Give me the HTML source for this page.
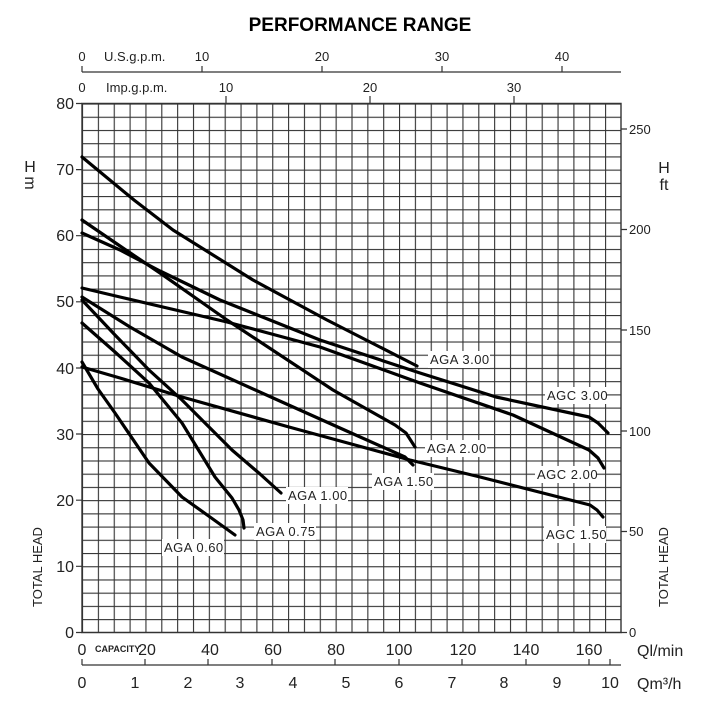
<!DOCTYPE html>
<html><head><meta charset="utf-8"><style>
html,body{margin:0;padding:0;background:#fff}
svg{display:block}
text{font-family:"Liberation Sans",sans-serif;fill:#222}
.t{font-size:16px}
.s{font-size:12px}
.l{font-size:13px;letter-spacing:0.5px}
</style></head><body>
<svg width="720" height="720" viewBox="0 0 720 720" xmlns="http://www.w3.org/2000/svg">
<defs>
<pattern id="g" x="82" y="103.5" width="15.85" height="13.22" patternUnits="userSpaceOnUse">
<path d="M0.5 0V13.22M0 0.5H15.85" stroke="#333" stroke-width="1.2" fill="none"/>
</pattern>
</defs>
<text x="360" y="31" text-anchor="middle" style="font-size:19px;font-weight:bold;fill:#000">PERFORMANCE RANGE</text>
<rect x="82" y="103.5" width="539" height="529" fill="url(#g)"/>
<path d="M82 103.5V632.5H621V103.5Z" fill="none" stroke="#333" stroke-width="1.4"/>
<g stroke="#333" stroke-width="1.2" fill="none">
<path d="M82 72H621M82 72V66M202 72V66M322 72V66M442 72V66M562 72V66"/>
<path d="M226 103V96M370 103V96M514 103V96"/>
<path d="M82 665H621M82 665V659M145 665V659M208 665V659M272 665V659M335 665V659M399 665V659M462 665V659M526 665V659M589 665V659M610 665V659"/>
<path d="M76 103.5H82M76 169.6H82M76 235.7H82M76 301.8H82M76 368H82M76 434H82M76 500.2H82M76 566.3H82M76 632.5H82"/>
<path d="M621 129H627M621 229.5H627M621 330H627M621 431H627M621 531.5H627M621 632.5H627"/>
</g>
<g class="s" style="font-size:13px">
<text x="82" y="61" text-anchor="middle">0</text><text x="104" y="61">U.S.g.p.m.</text>
<text x="202" y="61" text-anchor="middle">10</text><text x="322" y="61" text-anchor="middle">20</text><text x="442" y="61" text-anchor="middle">30</text><text x="562" y="61" text-anchor="middle">40</text>
<text x="82" y="92" text-anchor="middle">0</text><text x="106" y="92">Imp.g.p.m.</text>
<text x="226" y="92" text-anchor="middle">10</text><text x="370" y="92" text-anchor="middle">20</text><text x="514" y="92" text-anchor="middle">30</text>
</g>
<g class="t" text-anchor="end">
<text x="74" y="109">80</text><text x="74" y="175">70</text><text x="74" y="241">60</text><text x="74" y="307">50</text><text x="74" y="374">40</text><text x="74" y="440">30</text><text x="74" y="506">20</text><text x="74" y="572">10</text><text x="74" y="638">0</text>
</g>
<g class="s" style="font-size:13px">
<text x="629" y="134">250</text><text x="629" y="234">200</text><text x="629" y="335">150</text><text x="629" y="436">100</text><text x="629" y="536">50</text><text x="629" y="637">0</text>
</g>
<text x="30" y="172" class="t" text-anchor="middle">H</text>
<text x="30" y="188" class="t" text-anchor="middle" transform="rotate(90 30 183)">m</text>
<text x="664" y="173" class="t" text-anchor="middle">H</text>
<text x="664" y="190" class="t" text-anchor="middle">ft</text>
<text transform="translate(42,607) rotate(-90)" class="s" style="font-size:13px">TOTAL HEAD</text>
<text transform="translate(668,607) rotate(-90)" class="s" style="font-size:13px">TOTAL HEAD</text>
<g class="t" text-anchor="middle">
<text x="82" y="655">0</text><text x="147" y="655">20</text><text x="210" y="655">40</text><text x="273" y="655">60</text><text x="336" y="655">80</text><text x="399" y="655">100</text><text x="463" y="655">120</text><text x="526" y="655">140</text><text x="589" y="655">160</text>
<text x="82" y="688">0</text><text x="135" y="688">1</text><text x="188" y="688">2</text><text x="240" y="688">3</text><text x="293" y="688">4</text><text x="346" y="688">5</text><text x="399" y="688">6</text><text x="452" y="688">7</text><text x="504" y="688">8</text><text x="557" y="688">9</text><text x="610" y="688">10</text>
</g>
<text x="95" y="652" style="font-size:9px;font-weight:bold">CAPACITY</text>
<text x="637" y="656" class="t">Ql/min</text>
<text x="637" y="689" class="t">Qm³/h</text>
<g fill="none" stroke="#000" stroke-width="3.2" stroke-linecap="round" stroke-linejoin="round">
<path d="M82 157L134 200L173 230L253 280L327 320L417 366"/>
<path d="M82 220L120 246L160 273L227 320L333 390L395 425L406 433L415 447"/>
<path d="M82 233L120 250L160 271L220 300L320 340L420 373L496 397L589 417L598 423L608 433"/>
<path d="M82 288L120 297L227 322L320 347L420 383L513 415L589 450L598 458L604 468"/>
<path d="M82 297L130 327L182 357L282 402L340 428L405 457L413 465"/>
<path d="M82 300L115 335L149 370L182 400L232 450L260 474L281 493"/>
<path d="M82 323L115 352L149 383L182 423L215 477L232 498L239 510L243 520L244 528"/>
<path d="M82 362L98 389L115 413L149 463L182 497L210 517L235 535"/>
<path d="M82 367L120 378L182 397L289 427L410 460L480 477L590 505L597 510L603 517"/>
</g>
<g class="l">
<rect x="428" y="351" width="62" height="17" fill="#fff"/><text x="430" y="364">AGA 3.00</text>
<rect x="545" y="387" width="62" height="17" fill="#fff"/><text x="547" y="400">AGC 3.00</text>
<rect x="425" y="440" width="62" height="17" fill="#fff"/><text x="427" y="453">AGA 2.00</text>
<rect x="372" y="473" width="62" height="17" fill="#fff"/><text x="374" y="486">AGA 1.50</text>
<rect x="535" y="466" width="62" height="17" fill="#fff"/><text x="537" y="479">AGC 2.00</text>
<rect x="544" y="526" width="62" height="17" fill="#fff"/><text x="546" y="539">AGC 1.50</text>
<rect x="286" y="487" width="62" height="17" fill="#fff"/><text x="288" y="500">AGA 1.00</text>
<rect x="254" y="523" width="62" height="17" fill="#fff"/><text x="256" y="536">AGA 0.75</text>
<rect x="162" y="539" width="62" height="17" fill="#fff"/><text x="164" y="552">AGA 0.60</text>
</g>
</svg>
</body></html>
